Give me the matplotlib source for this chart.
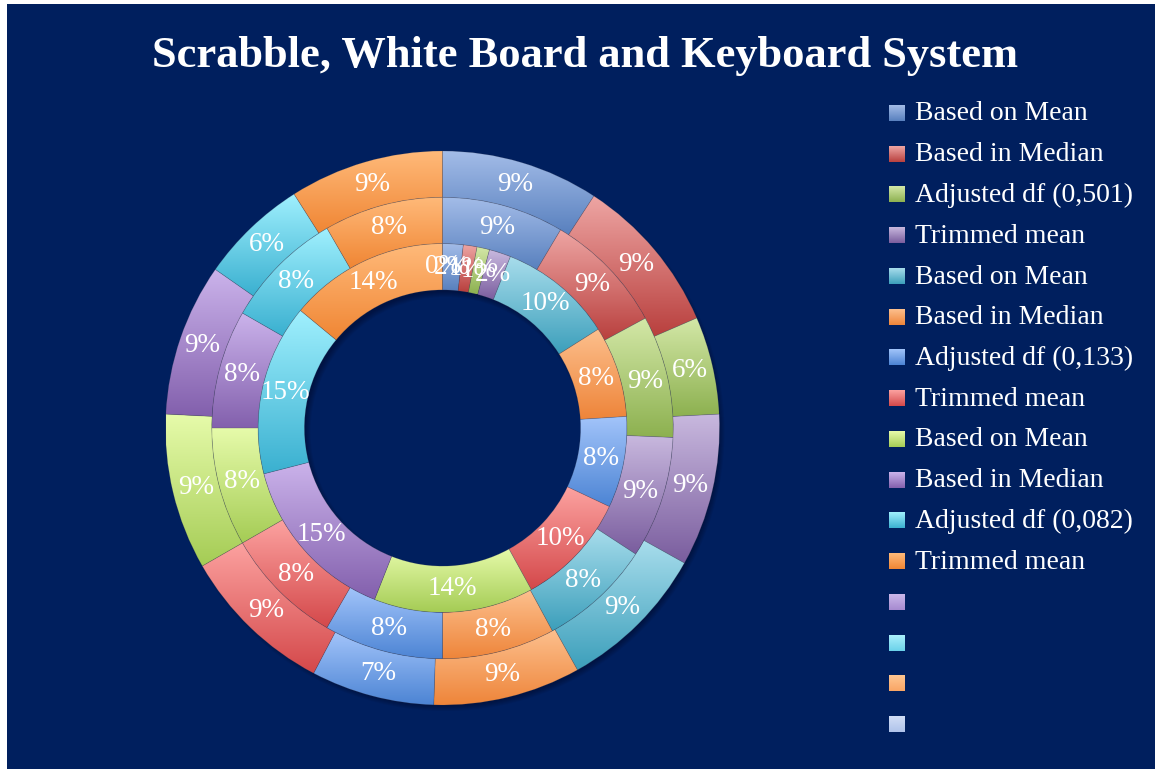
import numpy as np
import matplotlib
matplotlib.use("Agg")
import matplotlib.pyplot as plt
from matplotlib.colors import to_rgb
from matplotlib.patches import Rectangle, Wedge

# ---------------- data ----------------
title = "Scrabble, White Board and Keyboard System"
legend_labels = ["Based on Mean", "Based in Median", "Adjusted df (0,501)", "Trimmed mean",
                 "Based on Mean", "Based in Median", "Adjusted df (0,133)", "Trimmed mean",
                 "Based on Mean", "Based in Median", "Adjusted df (0,082)", "Trimmed mean",
                 "", "", "", ""]
# rings, clockwise from 12 o'clock (percent shares)
outer_values = [9.2, 9.3, 5.7, 8.9, 8.8, 8.6, 7.2, 9.0, 9.1, 8.9, 6.3, 9.0]
middle_values = [8.55, 8.55, 8.55, 8.55, 7.9, 7.9, 8.35, 8.35, 8.3, 8.3, 8.35, 8.35]
inner_values = [1.8, 1.2, 1.1, 1.9, 10.0, 8.0, 8.0, 10.0, 14.0, 15.0, 15.0, 14.0, 0.0]

# ---------------- style ----------------
top_colors = ["#A3BCE8", "#EEA6A4", "#D4E8A8", "#C8B8DE", "#A8DDEC", "#FDC08E",
              "#A2C4FA", "#FCA2A0", "#E6FBAA", "#CBB3EB", "#A0F0FE", "#FFBA7A",
              "#CBB8EA", "#AAEFFB", "#FFC692", "#D2DEF6"]
bottom_colors = ["#5880BE", "#B9403E", "#8DB150", "#7A5D9E", "#3C9FBB", "#EE853A",
                 "#4C84D4", "#D4484A", "#A5CC55", "#8360AD", "#3AB0D0", "#F08634",
                 "#A68AD0", "#6BD2EA", "#F9A665", "#AFC3EA"]
navy = "#001F5E"
label_font = "Liberation Serif"

W, H = 1155, 769
fig = plt.figure(figsize=(W / 100, H / 100), dpi=100)
fig.patch.set_facecolor("white")

# overlay in pixel coordinates (background, title, legend)
ov = fig.add_axes([0, 0, 1, 1], zorder=0)
ov.set_xlim(0, W)
ov.set_ylim(H, 0)
ov.axis("off")
ov.add_patch(Rectangle((7, 4), W - 7, H - 4, facecolor=navy, edgecolor="none", zorder=0))
ov.text(585, 67, title, ha="center", va="baseline", color="white",
        fontsize=32, fontweight="bold", family=label_font, zorder=3)


def grad(ct, cb, n=128):
    t = np.linspace(0, 1, n)[:, None, None]
    a = np.array(to_rgb(ct))[None, None, :]
    b = np.array(to_rgb(cb))[None, None, :]
    return a * (1 - t) + b * t


# legend
for i, lab in enumerate(legend_labels):
    y = 113 + 40.75 * i
    ov.imshow(grad(top_colors[i], bottom_colors[i]), extent=[889, 904.5, y + 8, y - 8],
              aspect="auto", interpolation="bilinear", zorder=2)
    if lab:
        ov.text(915, y + 1, lab, ha="left", va="center", color="white",
                fontsize=20, family=label_font, zorder=3)
ov.set_xlim(0, W)
ov.set_ylim(H, 0)

# ---------------- doughnut ----------------
cx, cy = 442.5, 428.0
half = 300.0
ax = fig.add_axes([(cx - half) / W, (H - cy - half) / H, 2 * half / W, 2 * half / H], zorder=1)
ax.axis("off")

R_out = 277.0
ring_w = 46.3
rings = [(outer_values, R_out), (middle_values, R_out - ring_w), (inner_values, R_out - 2 * ring_w)]

# soft shadow of the doughnut
for k in range(6):
    ax.add_patch(Wedge((3, -4), R_out + 2 - k, 0, 360, width=3 * ring_w,
                       facecolor="#000820", edgecolor="none", alpha=0.08, zorder=0.5))

for vals, R in rings:
    n = len(vals)
    wedges, texts, autotexts = ax.pie(
        vals, radius=R, startangle=90, counterclock=False,
        colors=bottom_colors[:n], autopct=lambda p: f"{p:.0f}%",
        pctdistance=(R - ring_w / 2) / R,
        wedgeprops=dict(width=ring_w, edgecolor=(0.3, 0.3, 0.35, 0.22), linewidth=0.5),
        textprops=dict(color="white", fontsize=19.5, family=label_font))
    for i, (w, v) in enumerate(zip(wedges, vals)):
        w.set_zorder(2)
        if v <= 0:
            continue
        ext = w.get_path().get_extents()
        im = ax.imshow(grad(top_colors[i], bottom_colors[i]),
                       extent=[ext.x0, ext.x1, ext.y0, ext.y1],
                       aspect="auto", interpolation="bilinear", zorder=1)
        im.set_clip_path(w)
        w.set_facecolor("none")
    for t in autotexts:
        t.set_zorder(5)

ax.set_xlim(-half, half)
ax.set_ylim(-half, half)

fig.savefig("out.png", dpi=100, facecolor=fig.get_facecolor())
